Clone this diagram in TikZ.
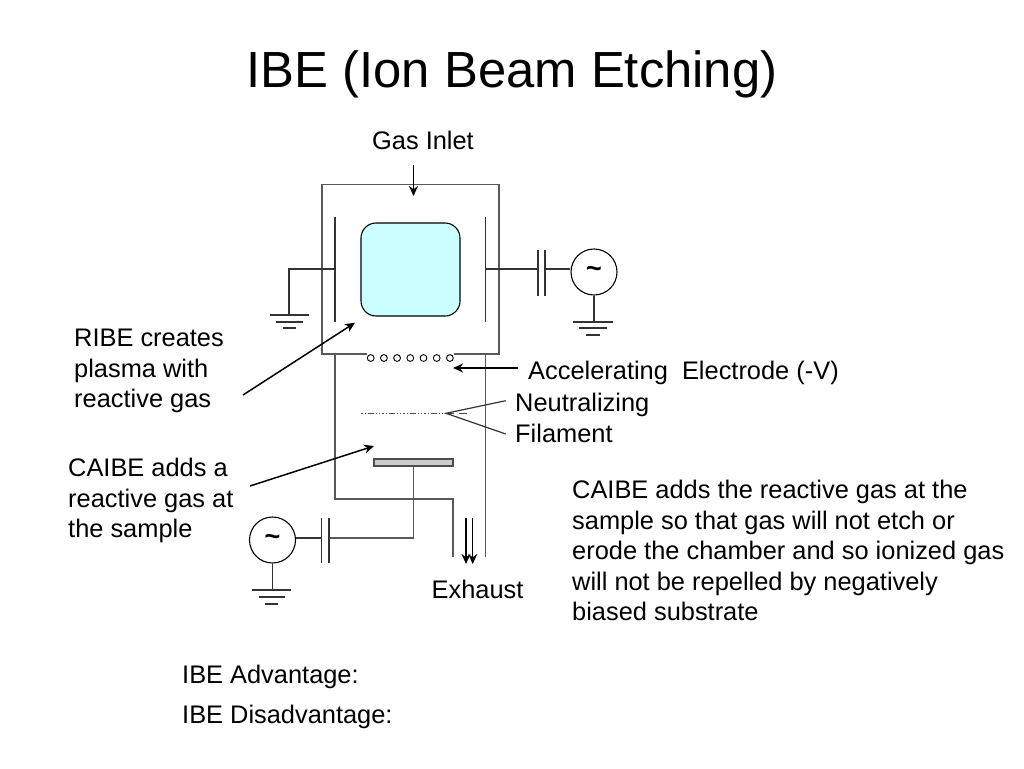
\documentclass[tikz,border=0pt]{standalone}
\usepackage{fontspec}
\setmainfont{Liberation Sans}
\usetikzlibrary{arrows.meta}
\definecolor{plasmablue}{HTML}{CCFFFF}
\begin{document}
\begin{tikzpicture}[
    x=1pt, y=-1pt,
    node distance=13.2pt,
    label/.style={anchor=west, inner sep=0pt, align=left, font=\fontsize{25.4}{30.5}\selectfont},
    wire/.style={line width=1.2pt, black!80},
    wall/.style={line width=1.5pt, black!65},
    arrow/.style={-{Stealth[length=10pt, width=9pt]}, line width=1.5pt},
    bead/.style={circle, draw, line width=0.9pt, fill=white, inner sep=0pt, minimum size=6.8pt},
    source/.style={circle, draw, line width=1.1pt, inner sep=0pt, minimum size=46pt, font=\fontsize{27}{27}\bfseries}
]
    \useasboundingbox (0,0) rectangle (1024,768);

    \node[font=\fontsize{50.8}{50.8}\selectfont, inner sep=0pt] (title) at (512,74) {IBE (Ion Beam Etching)};
    \node[label, anchor=center] (gas) at (423,140.5) {Gas Inlet};
    \node[label] (ribe) at (74,371) {RIBE creates\\plasma with\\reactive gas};
    \node[label] (caibe) at (68,500.5) {CAIBE adds a\\reactive gas at\\the sample};
    \node[label] (accel) at (528,373) {Accelerating\ \ Electrode (-V)};
    \node[label] (neutral) at (515,418) {Neutralizing\\Filament};
    \node[label] (exhaust) at (431.5,589.5) {Exhaust};
    \node[label] (note) at (572,550.5) {CAIBE adds the reactive gas at the\\sample so that gas will not etch or\\erode the chamber and so ionized gas\\will not be repelled by negatively\\biased substrate};
    \node[label] (adv) at (182,677) {IBE Advantage:};
    \node[label] (disadv) at (182,717) {IBE Disadvantage:};

    \node[draw, line width=1.1pt, fill=plasmablue, minimum width=99pt, minimum height=93pt, inner sep=0pt, rounded corners=15pt] (plasma) at (410.5,269.5) {};
    \node[draw, line width=1.1pt, black!70, fill=black!20, minimum width=79pt, minimum height=7pt, inner sep=0pt] (sample) at (413.5,462.5) {};

    \node[bead] (B1) at (370.7,358) {};
    \node[bead, right of=B1] (B2) {};
    \node[bead, right of=B2] (B3) {};
    \node[bead, right of=B3] (B4) {};
    \node[bead, right of=B4] (B5) {};
    \node[bead, right of=B5] (B6) {};
    \node[bead, right of=B6] (B7) {};

    \node[source] (S1) at (594,272) {\raisebox{-2pt}{\textasciitilde}};
    \node[source] (S2) at (272.5,540) {\raisebox{-2pt}{\textasciitilde}};

    \coordinate (capA1) at (538,269);
    \coordinate (capA2) at (545,269);
    \coordinate (capB1) at (321.7,538);
    \coordinate (capB2) at (329,538);
    \coordinate (gndL) at (289,315);
    \coordinate (gndR) at (594,322);
    \coordinate (gndS) at (272.5,590);
    \coordinate (elecL) at (335,269);
    \coordinate (elecR) at (485.7,269);
    \coordinate (rimL) at (367,354);
    \coordinate (rimR) at (454,354);

    \draw[wall] (rimL) -- (322,354) -- (322,184.5) -- (499,184.5) -- (499,354) -- (rimR);
    \draw[wall] (335,354) -- (335,499) -- (453,499) -- (453,557);
    \draw[wall] (485.7,354) -- (485.7,557);
    \draw[wire] (335,217) -- (335,322);
    \draw[wire] (485.7,217) -- (485.7,322);

    \draw[wire] (elecL) -- (289,269) -- (gndL);
    \draw[wire] (270,315) -- (309,315);
    \draw[wire] (276,322) -- (303,322);
    \draw[wire] (283,328) -- (296,328);

    \draw[wire] (elecR) -- (capA1);
    \draw[wire] (538,250) -- (538,296);
    \draw[wire] (545,250) -- (545,296);
    \draw[wire] (capA2) -- (S1.west |- capA2);
    \draw[wire] (S1) -- (gndR);
    \draw[wire] (573,322) -- (613,322);
    \draw[wire] (579,328) -- (607,328);
    \draw[wire] (586,335) -- (600,335);

    \draw[wall] (sample.south) -- (413.5,538) -- (capB2);
    \draw[wire] (321.7,518) -- (321.7,563);
    \draw[wire] (329,518) -- (329,563);
    \draw[wire] (S2.east |- capB1) -- (capB1);
    \draw[wire] (S2) -- (gndS);
    \draw[wire] (252,590) -- (291,590);
    \draw[wire] (259,597) -- (285,597);
    \draw[wire] (265,604) -- (278,604);

    \coordinate (fil) at (446,413.3);
    \draw[line width=0.9pt, black!70, dash pattern=on 2pt off 2pt on 1pt off 2pt on 6pt off 2pt on 1pt off 2pt on 1pt off 2pt] (361,413.3) -- (fil);
    \draw[line width=0.9pt, black!70, dash pattern=on 8pt off 5pt] (fil) -- (470,413.3);
    \draw[wire] (505.7,400.7) -- (fil) -- (505.7,434);

    \draw[arrow] (413.5,165) -- (413.5,196);
    \draw[arrow] (518,368) -- (453,368);
    \draw[arrow] (243,395) -- (355,322.7);
    \draw[arrow] (250,486) -- (374,446);
    \draw[arrow] (466,518) -- (466,564);
    \draw[arrow] (472.7,518) -- (472.7,564);
\end{tikzpicture}
\end{document}
